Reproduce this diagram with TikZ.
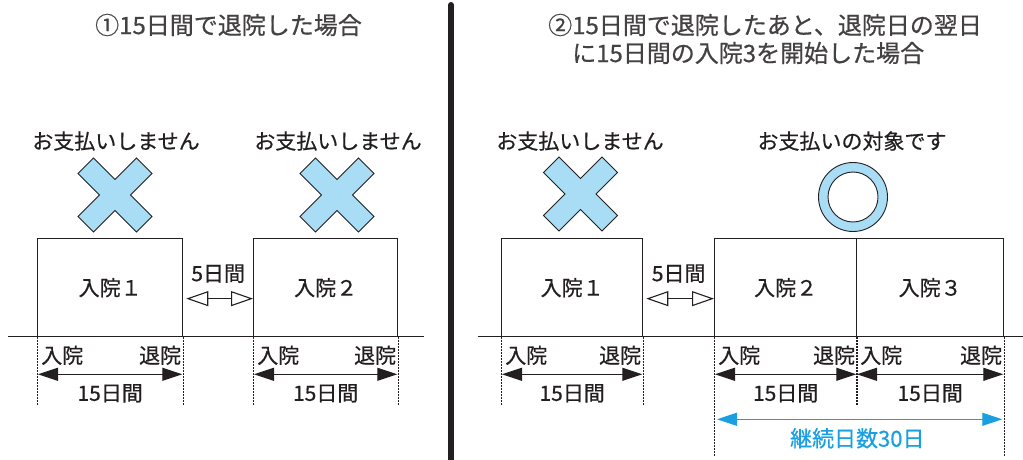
\documentclass[tikz,border=0pt]{standalone}
\usepackage{fontspec}
\setmainfont{Noto Sans CJK JP}[FakeBold=0.6]
\usetikzlibrary{arrows.meta, positioning, calc}
\definecolor{ink}{HTML}{231F20}
\definecolor{pale}{HTML}{A9DDF6}
\definecolor{sky}{HTML}{1AA0E2}
\tikzset{
  ward/.style={draw=ink, line width=1.3pt, anchor=north west, minimum height=98pt, inner sep=0pt, text=ink, font=\fontsize{21}{24}\selectfont},
  say/.style={text=ink, inner sep=0pt, font=\fontsize{21}{24}\selectfont},
  head/.style={text=ink!85, inner sep=0pt, anchor=west, font=\fontsize{24}{28}\selectfont},
  span/.style={{Triangle[length=20pt,width=13pt]}-{Triangle[length=20pt,width=13pt]}, line width=1.3pt, draw=ink},
  hop/.style={{Triangle[open,length=22pt,width=15pt,fill=white]}-{Triangle[open,length=22pt,width=15pt,fill=white]}, line width=1.1pt, draw=ink},
  guide/.style={draw=ink, line width=0.9pt, dash pattern=on 1.5pt off 1.5pt},
  verdict/.style={fill=pale, draw=ink, line width=0.9pt}
}
\begin{document}
\begin{tikzpicture}[x=1pt, y=1pt]
	\useasboundingbox (0,0) rectangle (1023,459);
	% titles and divider
	\node[head] (t1) at (95,434) {①15日間で退院した場合};
	\node[head] (t2) at (548,434) {②15日間で退院したあと、退院日の翌日};
	\node[head] (t3) at (572,406) {に15日間の入院3を開始した場合};
	\draw[ink, line width=6pt, line cap=round] (451,454) -- (451,-3);
	% time axes
	\coordinate (l0) at (8,122.5);
	\coordinate (l1) at (424,122.5);
	\coordinate (r0) at (478,122.5);
	\coordinate (r1) at (1023,122.5);
	\draw[ink, line width=1pt] (l0) -- (l1) (r0) -- (r1);
	% stays
	\foreach \n/\x/\w/\t in {a/37/145/入院１, b/253/144/入院２, c/501/141/入院１, d/714/142/入院２, e/856/147/入院３} {
		\node[ward, minimum width=\w pt] (\n) at (\x,221) {\t};
		\node[say, anchor=west] (\n-in) at ([xshift=4pt, yshift=-18pt]\n.south west) {入院};
		\node[say, anchor=east] (\n-out) at ([xshift=-2pt, yshift=-18pt]\n.south east) {退院};
		\draw[span] ([xshift=1pt, yshift=-37pt]\n.south west) -- ([xshift=-1pt, yshift=-37pt]\n.south east);
		\node[say] (\n-len) at ([yshift=-56pt]\n.south) {15日間};
		\draw[guide] (\n.south west) -- ++(0,-68);
		\draw[guide] (\n.south east) -- ++(0,-68);
	}
	% gaps between stays
	\foreach \p/\q in {a/b, c/d} {
		\path (\p.east) -- node[say, yshift=14pt] (\p-gap) {5日間} (\q.west);
		\draw[hop] ([xshift=3pt, yshift=-11pt]\p.east) -- ([yshift=-11pt]\q.west);
	}
	% verdicts
	\node[say] (v1) at (116,318) {お支払いしません};
	\node[say] (v2) at (338,318) {お支払いしません};
	\node[say] (v3) at (580,318) {お支払いしません};
	\node[say] (v4) at (852,318) {お支払いの対象です};
	\foreach \cx/\cy in {115/264, 337/264, 580.5/265} {
		\draw[verdict, shift={(\cx,\cy)}] (0,15.5) -- (21.4,37) -- (37,21.4) -- (15.5,0) -- (37,-21.4) -- (21.4,-37)
			-- (0,-15.5) -- (-21.4,-37) -- (-37,-21.4) -- (-15.5,0) -- (-37,21.4) -- (-21.4,37) -- cycle;
	}
	\draw[verdict, even odd rule] (853,262) circle[radius=34.5] (853,262) circle[radius=25];
	% continued stay
	\coordinate (s0) at ([yshift=-119pt]d.south west);
	\coordinate (s1) at ([yshift=-119pt]e.south east);
	\draw[guide] (d.south west) -- (s0);
	\draw[guide] (e.south east) -- (s1);
	\draw[span, draw=sky] ([xshift=3pt, yshift=-82pt]d.south west) -- ([xshift=-2pt, yshift=-82pt]e.south east);
	\node[say, text=sky, font=\fontsize{22}{26}\selectfont] (total) at ([yshift=-101pt]d.south east) {継続日数30日};
\end{tikzpicture}
\end{document}
